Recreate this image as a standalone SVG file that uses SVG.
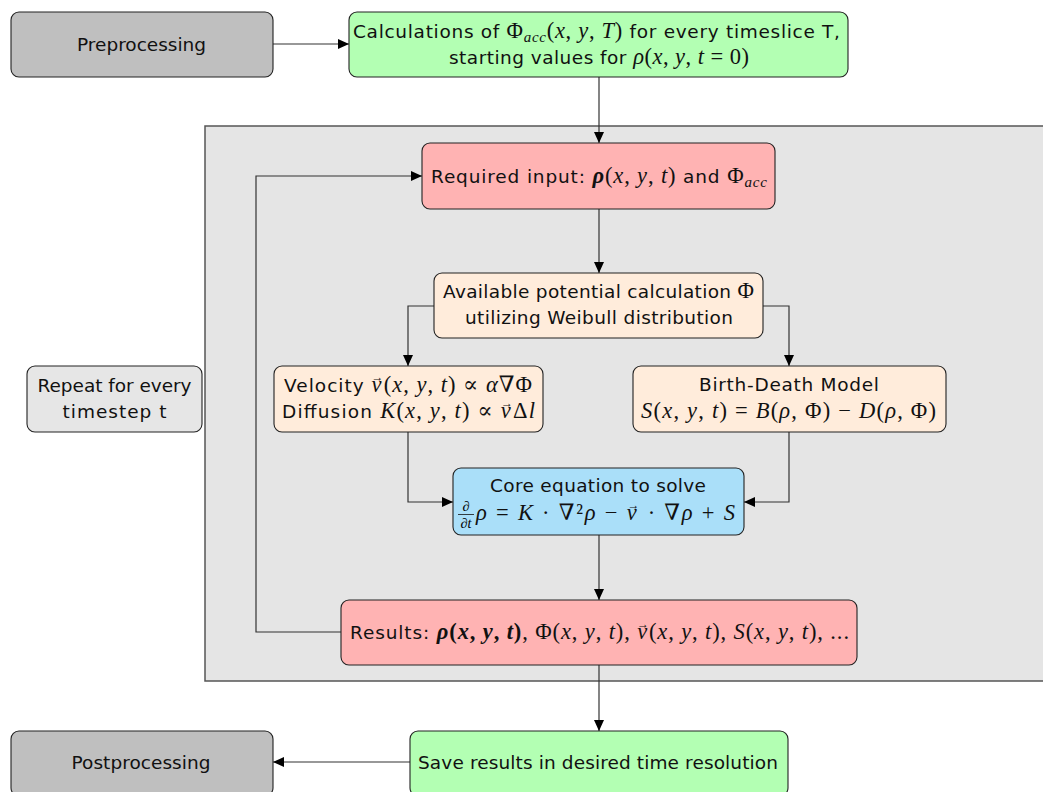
<svg xmlns="http://www.w3.org/2000/svg" width="1043" height="792" viewBox="0 0 1043 792">
<style>
.t{font-family:"DejaVu Sans","Liberation Sans",Arial,sans-serif;font-size:18.5px;fill:#111;text-anchor:middle}
.m{font-family:"Liberation Serif","DejaVu Serif",serif;font-style:italic;font-size:22.5px}
.r{font-family:"Liberation Serif","DejaVu Serif",serif;font-style:normal;font-size:22.5px}
.b{font-weight:bold}
.s{font-size:15px}
.f{font-size:14px}
.a{font-family:"Liberation Serif","DejaVu Serif",serif;font-style:normal;font-size:12px}
.node{stroke:#222;stroke-width:1.1}
.gray{fill:#bfbfbf}
.green{fill:#b3ffb3}
.red{fill:#ffb3b3}
.peach{fill:#ffecdb}
.blue{fill:#aadff9}
.light{fill:#e6e6e6}
.conn{fill:none;stroke:#333;stroke-width:1.2}
</style>
<defs>
<marker id="ah" markerWidth="11" markerHeight="10" refX="11" refY="5" orient="auto" markerUnits="userSpaceOnUse">
<path d="M0,0 L11,5 L0,10 z" fill="#000"/>
</marker>
</defs>

<rect id="repeat-area" x="205" y="126" width="900" height="555" fill="#e5e5e5" stroke="#555" stroke-width="1.5"/>

<g id="connectors">
<path class="conn" d="M273,44 L349,44" marker-end="url(#ah)"/>
<path class="conn" d="M599,77 L599,143" marker-end="url(#ah)"/>
<path class="conn" d="M599,209 L599,273" marker-end="url(#ah)"/>
<path class="conn" d="M434,306 L408,306 L408,366" marker-end="url(#ah)"/>
<path class="conn" d="M763,306 L789,306 L789,366" marker-end="url(#ah)"/>
<path class="conn" d="M408,431 L408,502 L453,502" marker-end="url(#ah)"/>
<path class="conn" d="M789,431 L789,502 L744,502" marker-end="url(#ah)"/>
<path class="conn" d="M599,535 L599,600" marker-end="url(#ah)"/>
<path class="conn" d="M341,632 L256,632 L256,176 L422,176" marker-end="url(#ah)"/>
<path class="conn" d="M599,665 L599,731" marker-end="url(#ah)"/>
<path class="conn" d="M410,762 L273,762" marker-end="url(#ah)"/>
</g>

<g id="preprocessing">
<rect class="node gray" x="11" y="12" width="262" height="65" rx="8"/>
<text class="t" x="141.5" y="51" textLength="129" lengthAdjust="spacing">Preprocessing</text>
</g>

<g id="calculations">
<rect class="node green" x="349" y="12" width="499" height="65" rx="8"/>
<text class="t" x="596.5" y="38" textLength="487" lengthAdjust="spacing">Calculations of <tspan class="r">Φ</tspan><tspan class="m s" dy="4">acc</tspan><tspan class="r" dy="-4">(</tspan><tspan class="m">x</tspan><tspan class="r">, </tspan><tspan class="m">y</tspan><tspan class="r">, </tspan><tspan class="m">T</tspan><tspan class="r">)</tspan> for every timeslice T,</text>
<text class="t" x="599" y="64" textLength="300" lengthAdjust="spacing">starting values for <tspan class="m">ρ</tspan><tspan class="r">(</tspan><tspan class="m">x</tspan><tspan class="r">, </tspan><tspan class="m">y</tspan><tspan class="r">, </tspan><tspan class="m">t</tspan><tspan class="r"> = 0)</tspan></text>
</g>

<g id="required-input">
<rect class="node red" x="422" y="143" width="353" height="66" rx="8"/>
<text class="t" x="599" y="183" textLength="336" lengthAdjust="spacing">Required input: <tspan class="m b">ρ</tspan><tspan class="r">(</tspan><tspan class="m">x</tspan><tspan class="r">, </tspan><tspan class="m">y</tspan><tspan class="r">, </tspan><tspan class="m">t</tspan><tspan class="r">)</tspan> and <tspan class="r">Φ</tspan><tspan class="m s" dy="4">acc</tspan></text>
</g>

<g id="available-potential">
<rect class="node peach" x="434" y="273" width="329" height="65" rx="8"/>
<text class="t" x="598.5" y="298" textLength="311" lengthAdjust="spacing">Available potential calculation <tspan class="r">Φ</tspan></text>
<text class="t" x="599" y="324" textLength="268" lengthAdjust="spacing">utilizing Weibull distribution</text>
</g>

<g id="repeat">
<rect class="node light" x="27" y="366" width="175" height="66" rx="8"/>
<text class="t" x="114.5" y="392" textLength="154" lengthAdjust="spacing">Repeat for every</text>
<text class="t" x="114.5" y="418" textLength="104" lengthAdjust="spacing">timestep t</text>
</g>

<g id="velocity">
<rect class="node peach" x="274" y="366" width="269" height="66" rx="8"/>
<text class="t" x="408" y="392" textLength="248" lengthAdjust="spacing">Velocity <tspan class="m">v</tspan><tspan class="a" dx="-11" dy="-11">→</tspan><tspan class="r" dx="-1" dy="11">(</tspan><tspan class="m">x</tspan><tspan class="r">, </tspan><tspan class="m">y</tspan><tspan class="r">, </tspan><tspan class="m">t</tspan><tspan class="r">) ∝ </tspan><tspan class="m">α</tspan><tspan class="r">∇Φ</tspan></text>
<text class="t" x="408.5" y="418" textLength="253" lengthAdjust="spacing">Diffusion <tspan class="m">K</tspan><tspan class="r">(</tspan><tspan class="m">x</tspan><tspan class="r">, </tspan><tspan class="m">y</tspan><tspan class="r">, </tspan><tspan class="m">t</tspan><tspan class="r">) ∝ </tspan><tspan class="m">v</tspan><tspan class="a" dx="-11" dy="-11">→</tspan><tspan class="r" dx="-1" dy="11">Δ</tspan><tspan class="m">l</tspan></text>
</g>

<g id="birth-death">
<rect class="node peach" x="633" y="366" width="313" height="66" rx="8"/>
<text class="t" x="789" y="391" textLength="180" lengthAdjust="spacing">Birth-Death Model</text>
<text class="t" x="788.5" y="418" textLength="295" lengthAdjust="spacing"><tspan class="m">S</tspan><tspan class="r">(</tspan><tspan class="m">x</tspan><tspan class="r">, </tspan><tspan class="m">y</tspan><tspan class="r">, </tspan><tspan class="m">t</tspan><tspan class="r">) = </tspan><tspan class="m">B</tspan><tspan class="r">(</tspan><tspan class="m">ρ</tspan><tspan class="r">, Φ) − </tspan><tspan class="m">D</tspan><tspan class="r">(</tspan><tspan class="m">ρ</tspan><tspan class="r">, Φ)</tspan></text>
</g>

<g id="core-equation">
<rect class="node blue" x="453" y="468" width="291" height="67" rx="8"/>
<text class="t" x="598" y="492" textLength="216" lengthAdjust="spacing">Core equation to solve</text>
<text class="r f" x="466" y="511" text-anchor="middle">∂</text>
<line x1="458" y1="514.5" x2="474" y2="514.5" stroke="#111" stroke-width="0.8"/>
<text class="m f" x="466" y="528" text-anchor="middle">∂t</text>
<text class="t" x="476" y="520" style="text-anchor:start" textLength="259" lengthAdjust="spacing"><tspan class="m">ρ</tspan><tspan class="r"> = </tspan><tspan class="m">K</tspan><tspan class="r"> · ∇²</tspan><tspan class="m">ρ</tspan><tspan class="r"> − </tspan><tspan class="m">v</tspan><tspan class="a" dx="-11" dy="-11">→</tspan><tspan class="r" dx="-1" dy="11"> · ∇</tspan><tspan class="m">ρ</tspan><tspan class="r"> + </tspan><tspan class="m">S</tspan></text>
</g>

<g id="results">
<rect class="node red" x="341" y="600" width="516" height="65" rx="8"/>
<text class="t" x="599.5" y="639" textLength="499" lengthAdjust="spacing">Results: <tspan class="m b">ρ</tspan><tspan class="r b">(</tspan><tspan class="m b">x</tspan><tspan class="r b">, </tspan><tspan class="m b">y</tspan><tspan class="r b">, </tspan><tspan class="m b">t</tspan><tspan class="r b">)</tspan><tspan class="r">, Φ(</tspan><tspan class="m">x</tspan><tspan class="r">, </tspan><tspan class="m">y</tspan><tspan class="r">, </tspan><tspan class="m">t</tspan><tspan class="r">), </tspan><tspan class="m">v</tspan><tspan class="a" dx="-11" dy="-11">→</tspan><tspan class="r" dx="-1" dy="11">(</tspan><tspan class="m">x</tspan><tspan class="r">, </tspan><tspan class="m">y</tspan><tspan class="r">, </tspan><tspan class="m">t</tspan><tspan class="r">), </tspan><tspan class="m">S</tspan><tspan class="r">(</tspan><tspan class="m">x</tspan><tspan class="r">, </tspan><tspan class="m">y</tspan><tspan class="r">, </tspan><tspan class="m">t</tspan><tspan class="r">), ...</tspan></text>
</g>

<g id="save-results">
<rect class="node green" x="410" y="731" width="378" height="65" rx="8"/>
<text class="t" x="598" y="769" textLength="360" lengthAdjust="spacing">Save results in desired time resolution</text>
</g>

<g id="postprocessing">
<rect class="node gray" x="11" y="731" width="262" height="65" rx="8"/>
<text class="t" x="141" y="769" textLength="139" lengthAdjust="spacing">Postprocessing</text>
</g>
</svg>
